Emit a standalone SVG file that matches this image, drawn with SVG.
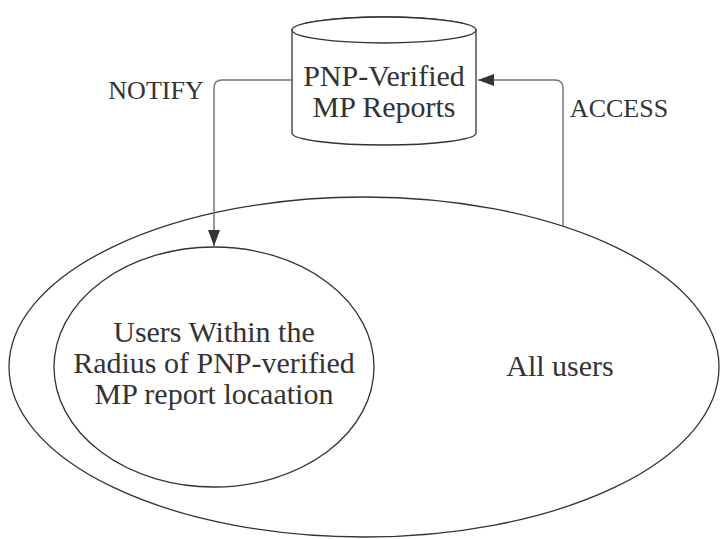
<svg xmlns="http://www.w3.org/2000/svg" width="728" height="539" viewBox="0 0 728 539">
<style>
.shape{fill:#fff;stroke:#333;stroke-width:1.3}
.conn{fill:none;stroke:#777;stroke-width:1.5}
.t{font-family:"Liberation Serif","Times New Roman",serif;fill:#333;text-anchor:middle}
.big{font-size:30px}
.lbl{font-size:26px}
</style>
<defs>
<marker id="arr" viewBox="0 0 16 12" refX="16" refY="6" markerWidth="16" markerHeight="12" markerUnits="userSpaceOnUse" orient="auto">
<path d="M0,0 L16,6 L0,12 Z" fill="#333"/>
</marker>
</defs>
<rect width="728" height="539" fill="#fff"/>
<g id="all-users">
<ellipse class="shape" cx="364" cy="367" rx="355" ry="170"/>
<text class="t big" x="560" y="376">All users</text>
</g>
<g id="users-within-radius">
<ellipse class="shape" cx="214" cy="367" rx="160" ry="120"/>
<text class="t big" x="214" y="342">Users Within the</text>
<text class="t big" x="214" y="373">Radius of PNP-verified</text>
<text class="t big" x="214" y="404">MP report locaation</text>
</g>
<g id="pnp-reports">
<path class="shape" d="M292,30 V133 A92,12 0 0 0 476,133 V30 A92,13 0 0 0 292,30 Z"/>
<ellipse class="shape" cx="384" cy="30" rx="92" ry="13"/>
<text class="t big" x="384" y="86">PNP-Verified</text>
<text class="t big" x="384" y="117">MP Reports</text>
</g>
<g id="connectors">
<path class="conn" d="M292,80 H222 Q214,80 214,88 V246" marker-end="url(#arr)"/>
<path class="conn" d="M563,226 V88 Q563,80 555,80 H478" marker-end="url(#arr)"/>
<text class="t lbl" x="156" y="99">NOTIFY</text>
<text class="t lbl" x="619" y="117">ACCESS</text>
</g>
</svg>
